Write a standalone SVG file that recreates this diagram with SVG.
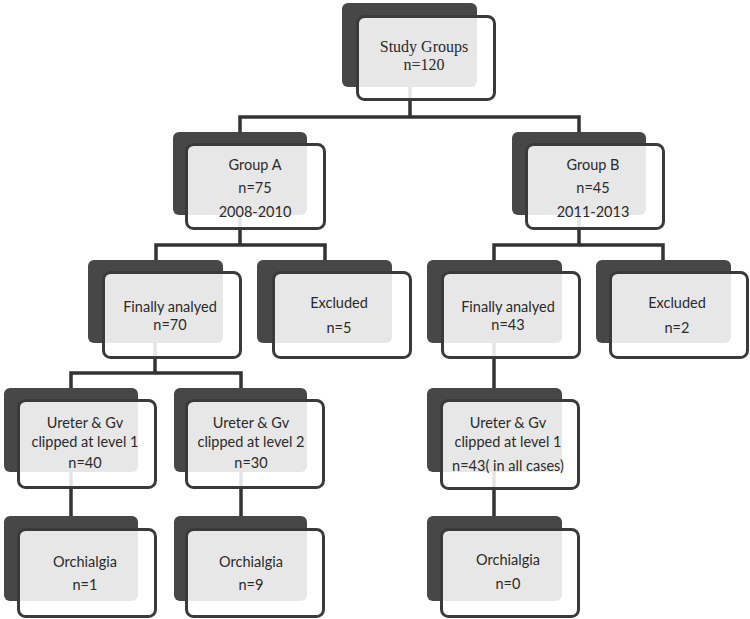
<svg xmlns="http://www.w3.org/2000/svg" width="750" height="619" viewBox="0 0 750 619">
<style>
.bk{fill:#474747}
.fr{fill:#ffffff;fill-opacity:0.87;stroke:#3a3a3a;stroke-width:3}
.ln{fill:none;stroke:#333333;stroke-width:3.5}
text{font-family:Lato,"Liberation Sans",sans-serif;font-size:14.5px;fill:#2a2a2a;text-anchor:middle}
.sf{font-family:"Liberation Serif","DejaVu Serif",serif;font-size:16px}
</style>
<rect width="750" height="619" fill="#ffffff"/>
<g id="connectors" class="ln">
<path d="M410,86 V117 M240,132 V117 H579 V132"/>
<path d="M240,214 V245 M156,260 V245 H325 V260"/>
<path d="M579,214 V245 M494,260 V245 H663 V260"/>
<path d="M155,342 V373 M71,388 V373 H241 V388"/>
<path d="M494,342 V388"/>
<path d="M71,471 V516 M241,471 V516 M494,471 V516"/>
</g>
<g id="study">
<rect class="bk" x="342" y="3" width="135" height="84" rx="6"/>
<rect class="fr" x="357.5" y="16.5" width="137" height="83" rx="7"/>
<text class="sf" x="424" y="52">Study Groups</text>
<text class="sf" x="424" y="70">n=120</text>
</g>
<g id="groupA">
<rect class="bk" x="173" y="132" width="134" height="83" rx="6"/>
<rect class="fr" x="186.5" y="144.5" width="138" height="84" rx="7"/>
<text x="255" y="170">Group A</text>
<text x="255" y="193">n=75</text>
<text x="255" y="217">2008-2010</text>
</g>
<g id="groupB">
<rect class="bk" x="512" y="132" width="134" height="83" rx="6"/>
<rect class="fr" x="526.5" y="144.5" width="137" height="84" rx="7"/>
<text x="593" y="170">Group B</text>
<text x="593" y="193">n=45</text>
<text x="593" y="217">2011-2013</text>
</g>
<g id="finA">
<rect class="bk" x="88" y="260" width="135" height="83" rx="6"/>
<rect class="fr" x="103.5" y="272.5" width="137" height="85" rx="7"/>
<text x="170" y="312">Finally analyed</text>
<text x="170" y="330">n=70</text>
</g>
<g id="excA">
<rect class="bk" x="257" y="260" width="135" height="83" rx="6"/>
<rect class="fr" x="273.5" y="272.5" width="137" height="85" rx="7"/>
<text x="339" y="308">Excluded</text>
<text x="339" y="333">n=5</text>
</g>
<g id="finB">
<rect class="bk" x="427" y="260" width="135" height="83" rx="6"/>
<rect class="fr" x="442.5" y="272.5" width="137" height="85" rx="7"/>
<text x="508" y="312">Finally analyed</text>
<text x="508" y="330">n=43</text>
</g>
<g id="excB">
<rect class="bk" x="596" y="260" width="135" height="83" rx="6"/>
<rect class="fr" x="610.5" y="272.5" width="137" height="85" rx="7"/>
<text x="677" y="308">Excluded</text>
<text x="677" y="333">n=2</text>
</g>
<g id="urA1">
<rect class="bk" x="4" y="388" width="134" height="84" rx="6"/>
<rect class="fr" x="18.5" y="400.5" width="137" height="87" rx="7"/>
<text x="85" y="428">Ureter &amp; Gv</text>
<text x="85" y="447">clipped at level 1</text>
<text x="85" y="468">n=40</text>
</g>
<g id="urA2">
<rect class="bk" x="174" y="388" width="133" height="84" rx="6"/>
<rect class="fr" x="186.5" y="400.5" width="137" height="87" rx="7"/>
<text x="251" y="428">Ureter &amp; Gv</text>
<text x="251" y="447">clipped at level 2</text>
<text x="251" y="468">n=30</text>
</g>
<g id="urB">
<rect class="bk" x="427" y="388" width="135" height="84" rx="6"/>
<rect class="fr" x="441.5" y="400.5" width="137" height="88" rx="7"/>
<text x="508" y="428">Ureter &amp; Gv</text>
<text x="508" y="447">clipped at level 1</text>
<text x="508" y="471">n=43( in all cases)</text>
</g>
<g id="orA1">
<rect class="bk" x="4" y="516" width="134" height="85" rx="6"/>
<rect class="fr" x="18.5" y="529.5" width="137" height="87" rx="7"/>
<text x="85" y="567">Orchialgia</text>
<text x="85" y="590">n=1</text>
</g>
<g id="orA2">
<rect class="bk" x="174" y="516" width="133" height="85" rx="6"/>
<rect class="fr" x="186.5" y="529.5" width="137" height="87" rx="7"/>
<text x="251" y="567">Orchialgia</text>
<text x="251" y="590">n=9</text>
</g>
<g id="orB">
<rect class="bk" x="427" y="516" width="135" height="85" rx="6"/>
<rect class="fr" x="441.5" y="529.5" width="137" height="87" rx="7"/>
<text x="508" y="565">Orchialgia</text>
<text x="508" y="589">n=0</text>
</g>
</svg>
